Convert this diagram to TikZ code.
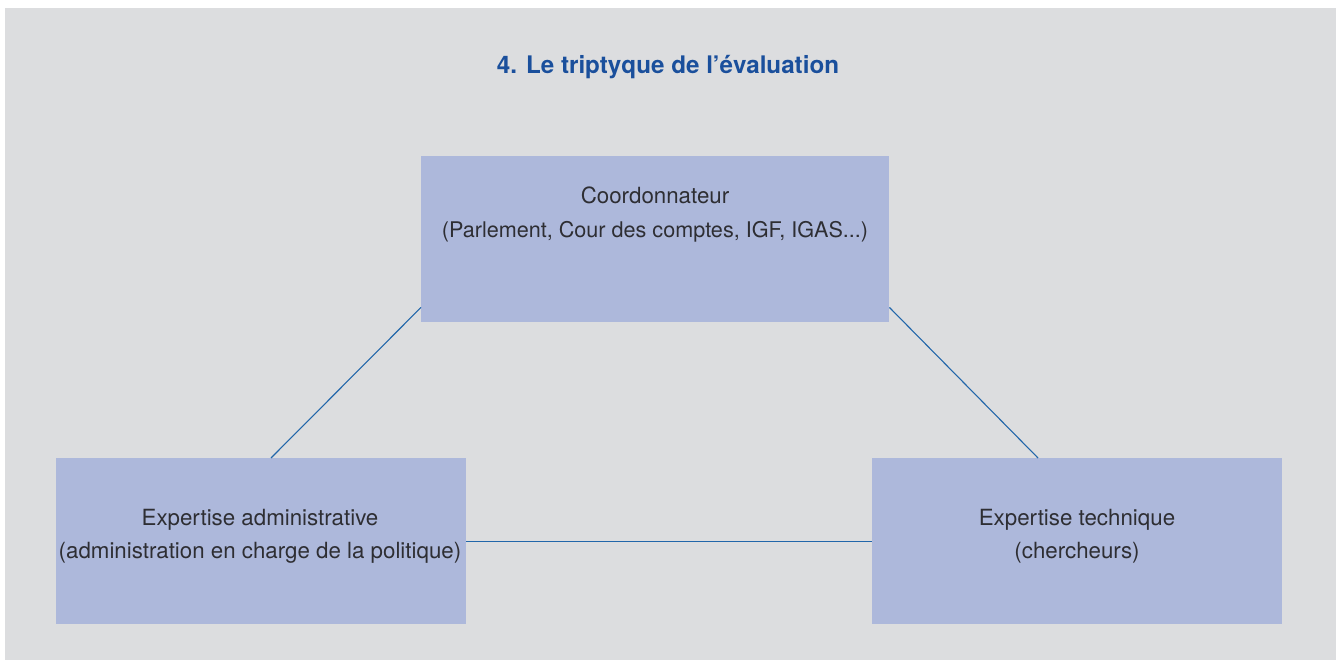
\documentclass[tikz,border=0pt]{standalone}
\usepackage{fontspec}
\setmainfont{TeX Gyre Heros}
\usetikzlibrary{calc}
\definecolor{bgpanel}{HTML}{DCDDDF}
\definecolor{boxfill}{HTML}{ADB8DB}
\definecolor{linkblue}{HTML}{2266AA}
\definecolor{titleblue}{HTML}{1A4F9C}
\definecolor{txt}{HTML}{2E2E33}
\begin{document}
\begin{tikzpicture}[x=1pt,y=-1pt,
  boxst/.style={fill=boxfill,draw=none,inner sep=0pt,anchor=north west},
  lbl/.style={text=txt,font=\fontsize{22.3}{30}\selectfont,inner sep=0pt,anchor=base},
  link/.style={draw=linkblue,line width=1.1pt}]
\useasboundingbox (0,0) rectangle (1336,660);
\fill[white] (0,0) rectangle (1336,660);
\fill[bgpanel] (5,8) rectangle (1336,660);
\node[text=titleblue,font=\bfseries\fontsize{24.2}{28}\selectfont,inner sep=0pt,anchor=base] (title) at (668,74) {4. Le triptyque de l’évaluation};
\node[boxst,minimum width=468pt,minimum height=166pt] (top) at (421,156) {};
\node[boxst,minimum width=410pt,minimum height=166pt] (left) at (56,458) {};
\node[boxst,minimum width=410pt,minimum height=166pt] (right) at (872,458) {};
\node[lbl] (topa) at (655,204) {Coordonnateur};
\node[lbl,font=\fontsize{21.6}{30}\selectfont] (topb) at (655,238) {(Parlement, Cour des comptes, IGF, IGAS...)};
\node[lbl] (lefta) at (260,525) {Expertise administrative};
\node[lbl] (leftb) at (260,558) {(administration en charge de la politique)};
\node[lbl] (righta) at (1077,525) {Expertise technique};
\node[lbl] (rightb) at (1077,558) {(chercheurs)};
\coordinate (tl) at ($(top.south west)+(0,-15)$);
\coordinate (tr) at ($(top.south east)+(0,-15)$);
\coordinate (lt) at ($(left.north west)+(215,0)$);
\coordinate (rt) at ($(right.north west)+(166,0)$);
\draw[link] (tl) -- (lt);
\draw[link] (tr) -- (rt);
\draw[link] (left.east) -- (right.west);
\end{tikzpicture}
\end{document}
